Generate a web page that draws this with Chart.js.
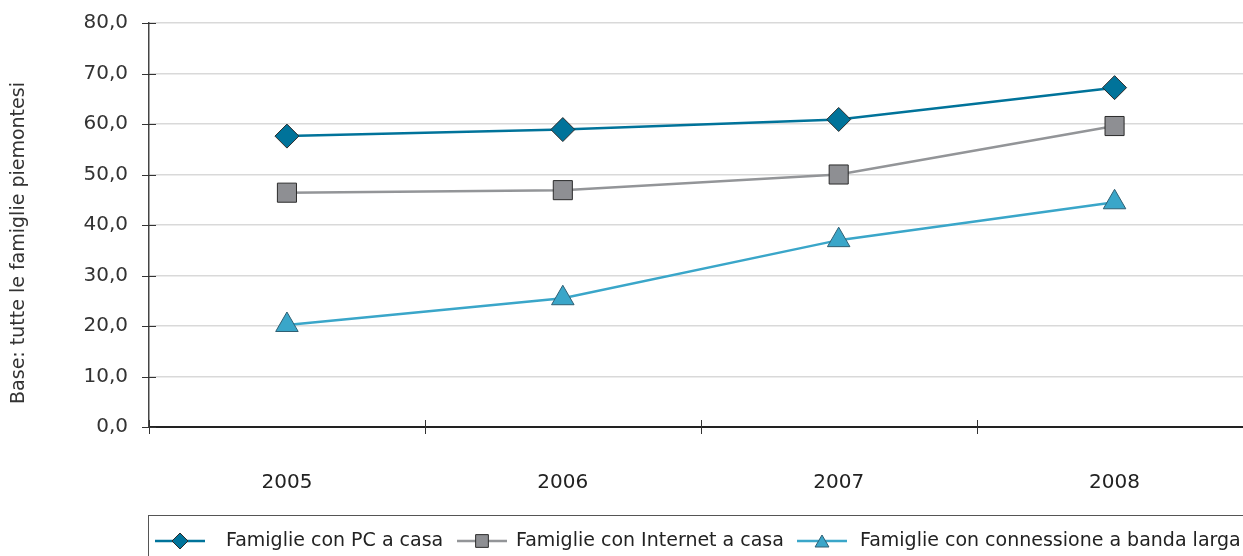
<!DOCTYPE html>
<html>
<head>
<meta charset="utf-8">
<script src="https://cdn.jsdelivr.net/npm/chart.js@4/dist/chart.umd.min.js"></script>
<style>
  html, body { margin: 0; padding: 0; background: #fff; overflow: hidden; }
  #wrap { width: 1267px; height: 556px; }
</style>
</head>
<body>
<div id="wrap"><canvas id="lineChart" width="1267" height="556"></canvas></div>
<script>
var years = ['2005', '2006', '2007', '2008'];
var pcCasa = [57.6, 58.9, 60.9, 67.2];
var internetCasa = [46.4, 46.9, 50.0, 59.6];
var bandaLarga = [20.2, 25.5, 37.0, 44.5];
var seriesNames = ['Famiglie con PC a casa', 'Famiglie con Internet a casa', 'Famiglie con connessione a banda larga'];
var yTicks = [0, 10, 20, 30, 40, 50, 60, 70, 80];
var yTitle = 'Base: tutte le famiglie piemontesi';

var FONT = '"DejaVu Sans", "Liberation Sans", sans-serif';

// axis tick marks crossing the axes, y title and the boxed legend
var decorPlugin = {
    id: 'decor',
    afterDraw: function(chart) {
        var ctx = chart.ctx;
        var area = chart.chartArea;
        var y = chart.scales.y;

        ctx.save();
        ctx.strokeStyle = '#333';
        ctx.lineWidth = 1;
        var step = (area.right - area.left) / years.length;
        for (var i = 0; i <= years.length; i++) {
            var px = Math.round(area.left + i * step) + 0.5;
            ctx.beginPath();
            ctx.moveTo(px, area.bottom - 7);
            ctx.lineTo(px, area.bottom + 7);
            ctx.stroke();
        }
        yTicks.forEach(function(v) {
            var py = Math.round(y.getPixelForValue(v)) + 0.5;
            ctx.beginPath();
            ctx.moveTo(area.left - 7, py);
            ctx.lineTo(area.left + 7, py);
            ctx.stroke();
        });

        // y axis title
        ctx.fillStyle = '#333';
        ctx.font = '19px ' + FONT;
        ctx.textAlign = 'center';
        ctx.textBaseline = 'middle';
        ctx.translate(19, 243);
        ctx.rotate(-Math.PI / 2);
        ctx.fillText(yTitle, 0, 0);
        ctx.restore();

        // legend box
        ctx.save();
        ctx.strokeStyle = '#555';
        ctx.lineWidth = 1;
        ctx.strokeRect(148.5, 515.5, 1200, 60);
        var lineStart = [155, 457, 797];
        var textStart = [226, 516, 860];
        var ly = 541;
        chart.data.datasets.forEach(function(ds, i) {
            ctx.strokeStyle = ds.borderColor;
            ctx.lineWidth = 2.5;
            ctx.beginPath();
            ctx.moveTo(lineStart[i], ly);
            ctx.lineTo(lineStart[i] + 50, ly);
            ctx.stroke();
            ctx.fillStyle = ds.pointBackgroundColor;
            ctx.strokeStyle = ds.pointBorderColor;
            ctx.lineWidth = 1;
            var r = ds.pointStyle === 'rect' ? 9 : 8;
            Chart.helpers.drawPoint(ctx, {
                pointStyle: ds.pointStyle,
                rotation: 0,
                radius: r,
                borderWidth: 1
            }, lineStart[i] + 25, ly + (ds.pointStyle === 'triangle' ? 2 : 0));
            ctx.fillStyle = '#222';
            ctx.font = '19px ' + FONT;
            ctx.textAlign = 'left';
            ctx.textBaseline = 'middle';
            ctx.fillText(ds.label, textStart[i], ly);
        });
        ctx.restore();
    }
};

var ctx = document.getElementById('lineChart').getContext('2d');
var lineChart = new Chart(ctx, {
    type: 'line',
    data: {
        labels: years,
        datasets: [{
            label: seriesNames[0],
            data: pcCasa,
            borderColor: '#00739a',
            borderWidth: 2.5,
            pointStyle: 'rectRot',
            pointRadius: 12,
            pointBackgroundColor: '#00739a',
            pointBorderColor: '#2b2b2b',
            pointBorderWidth: 1
        }, {
            label: seriesNames[1],
            data: internetCasa,
            borderColor: '#939598',
            borderWidth: 2.5,
            pointStyle: 'rect',
            pointRadius: 13.5,
            pointBackgroundColor: '#8e8f93',
            pointBorderColor: '#2b2b2b',
            pointBorderWidth: 1
        }, {
            label: seriesNames[2],
            data: bandaLarga,
            borderColor: '#3aa6c9',
            borderWidth: 2.5,
            pointStyle: 'triangle',
            pointRadius: 13,
            pointBackgroundColor: '#3aa6c9',
            pointBorderColor: '#2f5f73',
            pointBorderWidth: 1
        }]
    },
    options: {
        responsive: false,
        animation: false,
        layout: { padding: { top: 23, left: 0, right: 0, bottom: 0 } },
        plugins: {
            legend: { display: false },
            tooltip: { enabled: false }
        },
        scales: {
            x: {
                offset: true,
                grid: { offset: true, drawOnChartArea: false, drawTicks: false },
                border: { display: true, color: '#222', width: 2 },
                ticks: {
                    color: '#222',
                    padding: 44,
                    font: { family: FONT, size: 20 }
                },
                afterFit: function(scale) { scale.height = 129; }
            },
            y: {
                min: 0,
                max: 80,
                grid: { color: '#d9d9d9', lineWidth: 1.5, drawTicks: false },
                border: { display: true, color: '#444', width: 1.5 },
                afterBuildTicks: function(scale) {
                    scale.ticks = yTicks.map(function(v) { return { value: v }; });
                },
                ticks: {
                    color: '#333',
                    padding: 21,
                    font: { family: FONT, size: 20 },
                    callback: function(v) { return v.toFixed(1).replace('.', ','); }
                },
                afterFit: function(scale) {
                    scale.width = 149;
                    scale.paddingTop = 0;
                    scale.paddingBottom = 0;
                }
            }
        }
    },
    plugins: [decorPlugin]
});
</script>
</body>
</html>
